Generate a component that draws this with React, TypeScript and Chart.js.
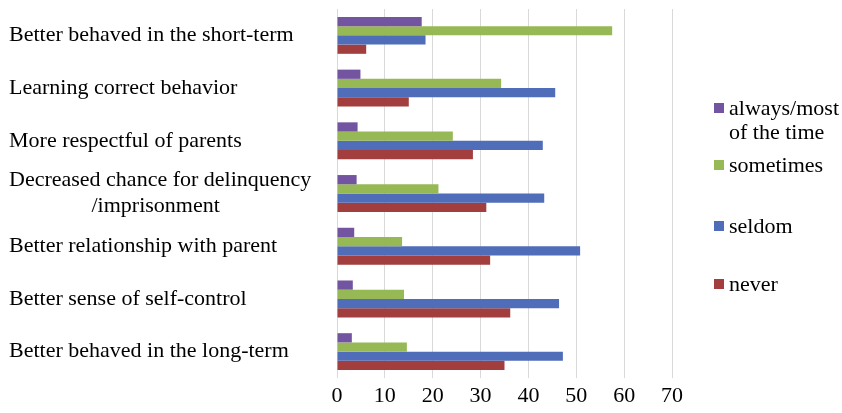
import React, { useEffect, useRef } from "react";
import { Chart, registerables } from "chart.js";

Chart.register(...registerables);

const categories: (string | string[])[] = [
  "Better behaved in the short-term",
  "Learning correct behavior",
  "More respectful of parents",
  ["Decreased chance for delinquency", "               /imprisonment"],
  "Better relationship with parent",
  "Better sense of self-control",
  "Better behaved in the long-term",
];

const seriesNames = ["always/most of the time", "sometimes", "seldom", "never"];
const legendLines = [["always/most", "of the time"], ["sometimes"], ["seldom"], ["never"]];
const seriesColors = ["#7354A0", "#96B955", "#4F6DB8", "#A23E3D"];

const alwaysValues = [17.7, 4.9, 4.3, 4.1, 3.6, 3.3, 3.1];
const sometimesValues = [57.5, 34.3, 24.2, 21.2, 13.6, 14.0, 14.6];
const seldomValues = [18.5, 45.6, 43.0, 43.3, 50.8, 46.4, 47.2];
const neverValues = [6.1, 15.0, 28.4, 31.2, 32.0, 36.2, 35.0];

const seriesValues = [alwaysValues, sometimesValues, seldomValues, neverValues];
const xTicks = [0, 10, 20, 30, 40, 50, 60, 70];

const FONT = "'Liberation Serif', 'Times New Roman', serif";
const legendTops = [96, 153, 214, 272];

export default function App() {
  const canvasRef = useRef<HTMLCanvasElement | null>(null);

  useEffect(() => {
    if (!canvasRef.current) return;
    const chart = new Chart(canvasRef.current, {
      type: "bar",
      data: {
        labels: categories,
        datasets: seriesNames.map((name, i) => ({
          label: name,
          data: seriesValues[i],
          backgroundColor: seriesColors[i],
          borderWidth: 0,
          categoryPercentage: 0.7,
          barPercentage: 1.0,
        })),
      },
      options: {
        indexAxis: "y",
        animation: false,
        responsive: false,
        layout: { padding: { left: 9, top: 9, right: 170, bottom: 0 } },
        plugins: {
          legend: { display: false },
          tooltip: { enabled: false },
        },
        scales: {
          x: {
            min: xTicks[0],
            max: xTicks[xTicks.length - 1],
            afterBuildTicks: (scale: any) => {
              scale.ticks = xTicks.map((v) => ({ value: v }));
            },
            afterFit: (scale: any) => {
              scale.height = 35;
            },
            grid: { color: "#d9d9d9", lineWidth: 1, drawTicks: false },
            border: { display: false },
            ticks: {
              color: "#000",
              padding: 5,
              font: { family: FONT, size: 22 },
            },
          },
          y: {
            afterFit: (scale: any) => {
              scale.width = 328;
              scale.paddingTop = 0;
              scale.paddingBottom = 0;
            },
            grid: { display: false },
            border: { display: false },
            ticks: {
              color: "#000",
              crossAlign: "far",
              autoSkip: false,
              font: { family: FONT, size: 22, lineHeight: 1.2 },
            },
          },
        },
      },
    });
    return () => chart.destroy();
  }, []);

  return (
    <div style={{ position: "absolute", left: 0, top: 0, width: 842, height: 413, background: "#fff", overflow: "hidden" }}>
      <canvas ref={canvasRef} width={842} height={413} style={{ display: "block" }} />
      {legendLines.map((lines, i) => (
        <div
          key={i}
          style={{
            position: "absolute",
            left: 714,
            top: legendTops[i],
            fontFamily: FONT,
            fontSize: 22,
            lineHeight: "24px",
            color: "#000",
            whiteSpace: "nowrap",
          }}
        >
          <span
            style={{
              position: "absolute",
              left: 0,
              top: 7,
              width: 10,
              height: 10,
              background: seriesColors[i],
            }}
          />
          <div style={{ marginLeft: 15 }}>
            {lines.map((l, j) => (
              <div key={j}>{l}</div>
            ))}
          </div>
        </div>
      ))}
    </div>
  );
}
